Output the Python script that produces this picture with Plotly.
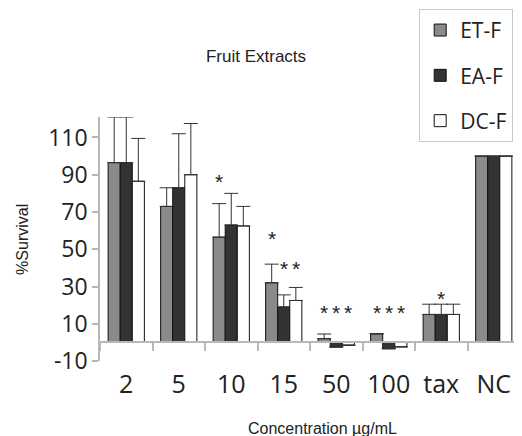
import plotly.graph_objects as go

categories = ["2", "5", "10", "15", "50", "100", "tax", "NC"]
series_names = ["ET-F", "EA-F", "DC-F"]
et_values = [96.5, 73, 56.5, 32, 2, 4.6, 15, 100]
et_errors = [24.5, 10, 18, 10, 2.5, 0, 5.5, 0]
ea_values = [96.5, 83, 63, 19, -2.5, -3.4, 15, 100]
ea_errors = [24.5, 29, 17, 6.5, 0, 0, 5.5, 0]
dc_values = [86.5, 90, 62.5, 22.5, -1.5, -2.4, 15, 100]
dc_errors = [23, 27.5, 10.5, 7, 0, 0, 5.5, 0]
colors = ["#8a8a8a", "#333333", "#ffffff"]

star_cats = ["10", "15", "15", "15", "50", "50", "50", "100", "100", "100", "tax"]
star_series = [0, 0, 1, 2, 0, 1, 2, 0, 1, 2, 1]
star_y = [89, 58.5, 42.5, 42.5, 18.5, 18.5, 18.5, 18.5, 18.5, 18.5, 26.5]

yticks = [-10, 10, 30, 50, 70, 90, 110]
ytick_text = ["-10", "10", "30", "50", "70", "90", "110"]

fig = go.Figure()
for i, (name, vals, errs) in enumerate(zip(series_names,
                                           [et_values, ea_values, dc_values],
                                           [et_errors, ea_errors, dc_errors])):
    fig.add_trace(go.Bar(
        x=categories, y=vals, name=name, legendgroup=name,
        marker=dict(color=colors[i], line=dict(color="#111111", width=1)),
        error_y=dict(type="data", array=errs, arrayminus=[0] * len(errs),
                     symmetric=False, color="#333333", thickness=1, width=7),
    ))

plot_w = 420
group_frac = 0.69
bar_px = plot_w / len(categories) * group_frac / 3
annotations = []
for c, s, yv in zip(star_cats, star_series, star_y):
    annotations.append(dict(x=categories.index(c), y=yv, xref="x", yref="y", text="*",
                            showarrow=False, xshift=(s - 1) * bar_px, yshift=-5,
                            font=dict(family="Liberation Sans", size=21, color="#222")))
annotations.append(dict(x=-0.186, y=0.5, xref="paper", yref="paper", text="%Survival",
                        textangle=-90, showarrow=False, xanchor="center", yanchor="middle",
                        font=dict(family="Liberation Sans", size=16, color="#222")))
annotations.append(dict(x=0.529, y=-0.275, xref="paper", yref="paper",
                        text="Concentration µg/mL", showarrow=False,
                        xanchor="center", yanchor="middle",
                        font=dict(family="Liberation Sans", size=16, color="#222")))

# the page body adds an 8 px offset; figure size compensates for it
fig.update_layout(
    template="none",
    width=514, height=428,
    margin=dict(l=92, r=2, t=109, b=75, autoexpand=False),
    paper_bgcolor="white", plot_bgcolor="white",
    barmode="group", bargap=1 - group_frac, bargroupgap=0,
    title=dict(text="Fruit Extracts", x=0.4825, xref="container", xanchor="center",
               y=0.888, yanchor="middle",
               font=dict(family="Liberation Sans", size=17, color="#222")),
    xaxis=dict(type="category", categoryorder="array", categoryarray=categories,
               range=[-0.5, 7.5], anchor="free", position=10 / 131,
               showline=True, linecolor="#b8b8b8", linewidth=1.5,
               showgrid=False, zeroline=False, automargin=False,
               ticks="outside", tickson="boundaries", ticklen=8,
               tickcolor="#b8b8b8", tickwidth=1.5, ticklabelstandoff=20,
               tickfont=dict(family="Open Sans", size=25, color="#222")),
    yaxis=dict(range=[-10, 121], tickvals=yticks, ticktext=ytick_text,
               showline=True, linecolor="#b8b8b8", automargin=False,
               linewidth=1.5, ticks="outside", ticklen=6, tickcolor="#b8b8b8",
               tickwidth=1.5, showgrid=False, zeroline=False,
               tickfont=dict(family="Open Sans", size=23, color="#222")),
    legend=dict(x=0.76, y=1.443, xanchor="left", yanchor="top",
                bordercolor="#c8c8c8", borderwidth=1, bgcolor="white",
                font=dict(family="Open Sans", size=21, color="#222"),
                tracegroupgap=15, itemwidth=30),
    annotations=annotations,
    showlegend=True,
)

fig.write_html("out.html")
